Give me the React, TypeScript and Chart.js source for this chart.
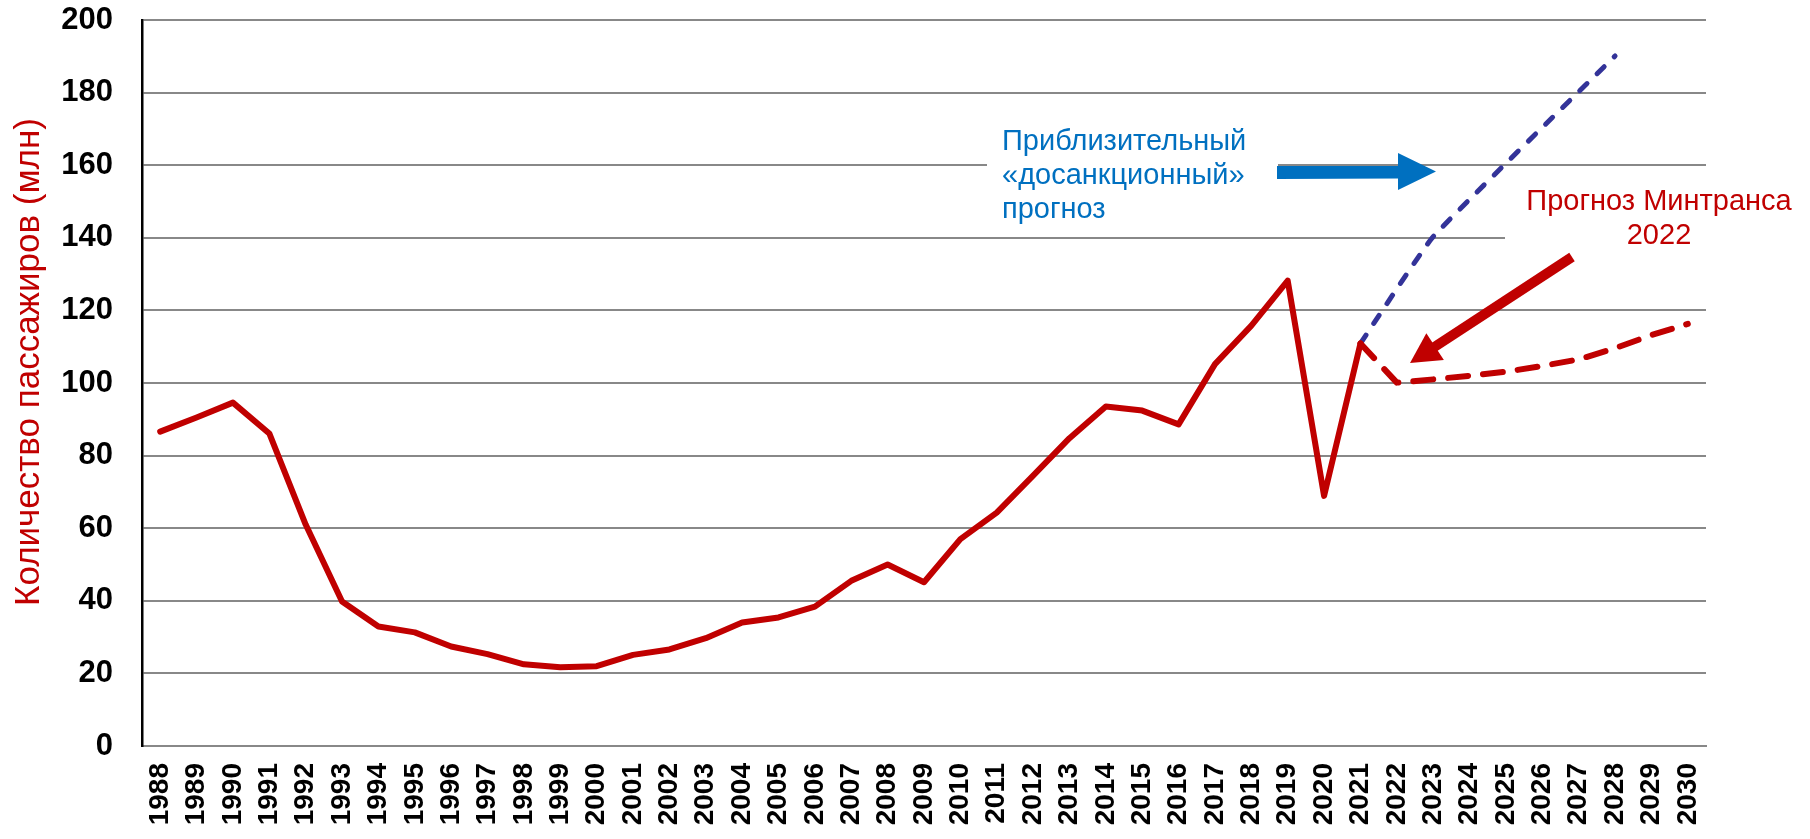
import React, { useEffect, useRef } from 'react';
import { Chart, registerables } from 'chart.js';

Chart.register(...registerables);

const FONT = 'Arial, "Liberation Sans", sans-serif';

const startYear = 1988;
const endYear = 2030;
const years: string[] = [];
for (let y = startYear; y <= endYear; y++) years.push(String(y));

// Actual passengers (mln), 1988–2021
const actualYears = [
  1988, 1989, 1990, 1991, 1992, 1993, 1994, 1995, 1996, 1997, 1998, 1999, 2000, 2001, 2002, 2003, 2004,
  2005, 2006, 2007, 2008, 2009, 2010, 2011, 2012, 2013, 2014, 2015, 2016, 2017, 2018, 2019, 2020, 2021,
];
const actualValues = [
  86.6, 90.5, 94.6, 86.1, 61.0, 39.8, 32.9, 31.3, 27.4, 25.3, 22.5, 21.7, 22.0, 25.1, 26.6, 29.7, 34.0,
  35.4, 38.4, 45.5, 50.0, 45.1, 57.0, 64.3, 74.5, 84.8, 93.5, 92.4, 88.6, 105.2, 115.8, 128.2, 68.9, 110.9,
];

// Mintrans 2022 forecast
const mintransYears = [2021, 2022, 2023, 2024, 2025, 2026, 2027, 2028, 2029, 2030];
const mintransValues = [110.9, 100.1, 101.0, 102.0, 103.1, 104.7, 106.5, 109.6, 113.2, 116.3];

// Approximate pre-sanctions forecast
const preSanctionYears = [2021, 2023, 2028];
const preSanctionValues = [110.9, 140.3, 190.1];

const yTicks = [0, 20, 40, 60, 80, 100, 120, 140, 160, 180, 200];

function toSeries(ys: number[], vs: number[]): (number | null)[] {
  return years.map((y) => {
    const i = ys.indexOf(Number(y));
    return i >= 0 ? vs[i] : null;
  });
}

const annotations = {
  id: 'annotations',
  beforeDatasetsDraw(chart: any) {
    const ctx = chart.ctx;
    ctx.save();
    ctx.fillStyle = '#ffffff';
    // text boxes covering gridlines
    ctx.fillRect(987, 125, 1278 - 987, 100);
    ctx.fillRect(1505, 178, 1810 - 1505, 80);
    ctx.restore();
  },
  afterDatasetsDraw(chart: any) {
    const ctx = chart.ctx;
    ctx.save();
    // blue text
    ctx.font = `29px ${FONT}`;
    ctx.fillStyle = '#0070C0';
    ctx.textAlign = 'left';
    ctx.textBaseline = 'middle';
    ctx.fillText('Приблизительный', 1002, 142);
    ctx.fillText('«досанкционный»', 1002, 176);
    ctx.fillText('прогноз', 1002, 210);

    // red text
    ctx.fillStyle = '#C00000';
    ctx.textAlign = 'center';
    ctx.fillText('Прогноз Минтранса', 1659, 202);
    ctx.fillText('2022', 1659, 236);

    // blue arrow
    ctx.fillStyle = '#0070C0';
    ctx.beginPath();
    ctx.moveTo(1277, 166);
    ctx.lineTo(1398, 166);
    ctx.lineTo(1398, 153);
    ctx.lineTo(1436, 171.5);
    ctx.lineTo(1398, 190);
    ctx.lineTo(1398, 178.5);
    ctx.lineTo(1277, 179);
    ctx.closePath();
    ctx.fill();

    // red arrow
    const tx = 1572, ty = 257, hx = 1410, hy = 363;
    const dx = hx - tx, dy = hy - ty;
    const len = Math.hypot(dx, dy);
    const ux = dx / len, uy = dy / len;
    const px = -uy, py = ux;
    const headLen = 30, headW = 16;
    const bx = hx - ux * headLen, by = hy - uy * headLen;
    ctx.strokeStyle = '#C00000';
    ctx.fillStyle = '#C00000';
    ctx.lineWidth = 10;
    ctx.lineCap = 'butt';
    ctx.beginPath();
    ctx.moveTo(tx, ty);
    ctx.lineTo(bx + ux * 2, by + uy * 2);
    ctx.stroke();
    ctx.beginPath();
    ctx.moveTo(hx, hy);
    ctx.lineTo(bx + px * headW, by + py * headW);
    ctx.lineTo(bx - px * headW, by - py * headW);
    ctx.closePath();
    ctx.fill();

    // y axis title
    ctx.translate(29, 362);
    ctx.rotate(-Math.PI / 2);
    ctx.font = `35px ${FONT}`;
    ctx.fillStyle = '#C00000';
    ctx.textAlign = 'center';
    ctx.textBaseline = 'middle';
    ctx.fillText('Количество пассажиров (млн)', 0, 0);
    ctx.restore();
  },
};

export default function App() {
  const canvasRef = useRef<HTMLCanvasElement | null>(null);

  useEffect(() => {
    document.body.style.margin = '0';
    const canvas = canvasRef.current;
    if (!canvas) return;
    const chart = new Chart(canvas, {
      type: 'line',
      data: {
        labels: years,
        datasets: [
          {
            label: 'Факт',
            data: toSeries(actualYears, actualValues),
            borderColor: '#C00000',
            borderWidth: 6,
            pointRadius: 0,
            tension: 0,
            borderJoinStyle: 'round',
            borderCapStyle: 'round',
            spanGaps: false,
          },
          {
            label: 'Прогноз Минтранса 2022',
            data: toSeries(mintransYears, mintransValues),
            borderColor: '#C00000',
            borderWidth: 6,
            borderDash: [20, 15],
            borderCapStyle: 'round',
            borderJoinStyle: 'round',
            pointRadius: 0,
            tension: 0,
          },
          {
            label: 'Приблизительный «досанкционный» прогноз',
            data: toSeries(preSanctionYears, preSanctionValues),
            borderColor: '#333399',
            borderWidth: 5,
            borderDash: [10, 14],
            borderCapStyle: 'round',
            pointRadius: 0,
            spanGaps: true,
            tension: 0.12,
          },
        ],
      },
      options: {
        animation: false,
        responsive: false,
        maintainAspectRatio: false,
        layout: { padding: { top: 20, right: 104, left: 0, bottom: 0 } },
        plugins: {
          legend: { display: false },
          tooltip: { enabled: false },
          title: { display: false },
        },
        scales: {
          x: {
            offset: true,
            grid: { display: false, drawTicks: false },
            border: { display: true, color: '#888888', width: 2 },
            ticks: {
              autoSkip: false,
              maxRotation: 90,
              minRotation: 90,
              padding: 17,
              color: '#000000',
              font: { family: FONT, size: 28, weight: 'bold' },
            },
            afterFit(scale: any) {
              scale.height = 93;
              scale.paddingLeft = 0;
              scale.paddingRight = 0;
            },
          },
          y: {
            min: 0,
            max: 200,
            afterBuildTicks(scale: any) {
              scale.ticks = yTicks.map((v) => ({ value: v }));
            },
            grid: { color: '#888888', lineWidth: 2, drawTicks: false },
            border: { display: true, color: '#000000', width: 2.5 },
            ticks: {
              padding: 29,
              color: '#000000',
              font: { family: FONT, size: 31, weight: 'bold' },
            },
            afterFit(scale: any) {
              scale.width = 142;
              scale.paddingTop = 0;
              scale.paddingBottom = 0;
            },
          },
        },
      },
      plugins: [annotations],
    });
    return () => chart.destroy();
  }, []);

  return (
    <div style={{ width: 1810, height: 839, position: 'relative', background: '#ffffff' }}>
      <canvas ref={canvasRef} width={1810} height={839} style={{ display: 'block', width: 1810, height: 839 }} />
    </div>
  );
}
